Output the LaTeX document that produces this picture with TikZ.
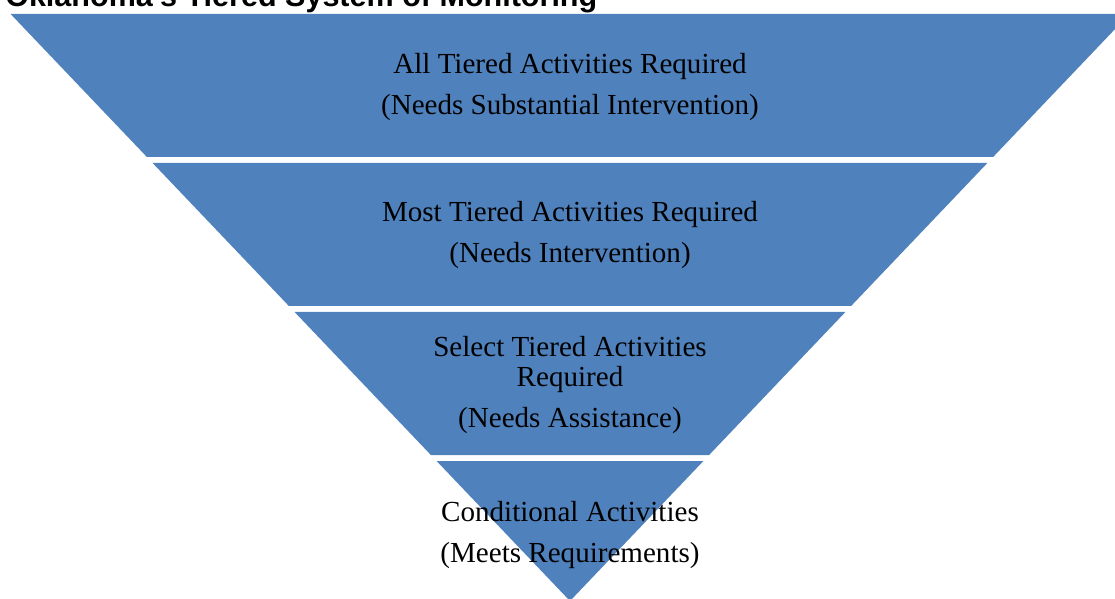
\documentclass[tikz,border=0pt]{standalone}
\usepackage{fontspec}
\setmainfont{Liberation Serif}
\newfontfamily\titlefont{Liberation Sans}
\definecolor{tierblue}{HTML}{4F81BD}
\tikzset{
  band/.style={fill=tierblue, draw=none},
  tiertext/.style={anchor=base, inner sep=0pt, font=\fontsize{21.8pt}{26pt}\selectfont, text=black},
  titletext/.style={anchor=base west, inner sep=0pt, font=\titlefont\bfseries\fontsize{22.9pt}{27pt}\selectfont}
}
\begin{document}
\begin{tikzpicture}[x=0.75pt, y=-0.75pt]
\useasboundingbox (0,0) rectangle (1115,599);
\clip (0,0) rectangle (1115,599);
\fill[white] (0,0) rectangle (1115,599);
% bands
\path[band] (10.6,14) -- (1129.4,14) -- (993.1,157) -- (146.9,157) -- cycle;
\path[band] (152.6,163) -- (987.4,163) -- (851.1,306) -- (288.9,306) -- cycle;
\path[band] (294.6,312) -- (845.4,312) -- (709.1,455) -- (430.9,455) -- cycle;
\path[band] (436.6,461) -- (703.4,461) -- (570,601) -- cycle;
% title
\node[titletext] (title) at (5,7) {Oklahoma's Tiered System of Monitoring};
% texts
\node[tiertext] (t1a) at (570,74) {All Tiered Activities Required};
\node[tiertext] (t1b) at (570,115) {(Needs Substantial Intervention)};
\node[tiertext] (t2a) at (570,222) {Most Tiered Activities Required};
\node[tiertext] (t2b) at (570,263) {(Needs Intervention)};
\node[tiertext] (t3a) at (570,357) {Select Tiered Activities};
\node[tiertext] (t3b) at (570,387) {Required};
\node[tiertext] (t3c) at (570,427) {(Needs Assistance)};
\node[tiertext] (t4a) at (570,521) {Conditional Activities};
\node[tiertext] (t4b) at (570,562) {(Meets Requirements)};
\end{tikzpicture}
\end{document}
